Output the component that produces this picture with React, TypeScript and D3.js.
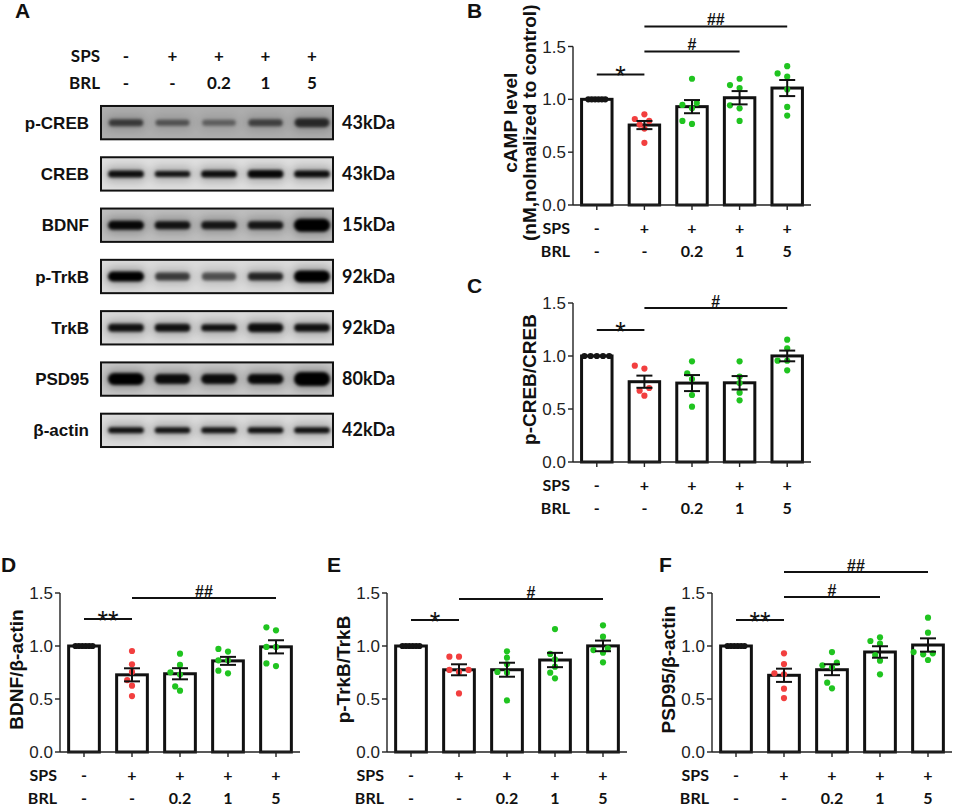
import * as d3 from "d3";

const ARIAL = "'Liberation Sans', Arial, sans-serif";
const LATO = "Lato, 'Liberation Sans', sans-serif";

// groups shared by every panel
const groups = ["Control", "SPS", "SPS+BRL0.2", "SPS+BRL1", "SPS+BRL5"];
const spsLabels = ["-", "+", "+", "+", "+"];
const brlLabels = ["-", "-", "0.2", "1", "5"];
const yTicks = [0, 0.5, 1.0, 1.5];

// western blot (panel A)
const blotRows = ["p-CREB", "CREB", "BDNF", "p-TrkB", "TrkB", "PSD95", "β-actin"];
const blotKDa = ["43kDa", "43kDa", "15kDa", "92kDa", "92kDa", "80kDa", "42kDa"];
const blotDensity = [
  [0.62, 0.48, 0.4, 0.58, 0.72],
  [0.92, 0.88, 0.92, 0.95, 0.92],
  [0.95, 0.88, 0.86, 0.86, 1.0],
  [1.0, 0.68, 0.58, 0.8, 1.0],
  [0.9, 0.9, 0.9, 0.92, 0.9],
  [1.0, 0.92, 0.92, 0.94, 1.0],
  [0.9, 0.88, 0.88, 0.9, 0.9],
];
const blotBandHalf = [
  [3.5, 3, 3, 3.5, 4.5],
  [3.5, 3, 3.5, 4, 3.5],
  [4.5, 4, 4, 4, 6.5],
  [5, 4, 4, 4, 6],
  [4, 4, 3.5, 4.5, 4],
  [6, 5, 5, 5, 7],
  [3, 3, 3, 3, 3],
];
const blotBgGray = [0.68, 0.87, 0.74, 0.86, 0.85, 0.78, 0.86];

// quantification, one array of points per group
const campValues = [
  [1, 1, 1, 1, 1, 1],
  [0.761, 0.814, 0.858, 0.796, 0.723, 0.588],
  [1.195, 0.947, 0.965, 0.915, 0.767, 0.796],
  [1.195, 1.107, 1.135, 0.943, 0.915, 0.796],
  [1.314, 1.214, 1.245, 1.094, 0.928, 0.846],
];
const pcrebValues = [
  [1, 1, 1, 1, 1],
  [0.909, 0.881, 0.698, 0.673, 0.626],
  [0.95, 0.836, 0.783, 0.632, 0.522],
  [0.95, 0.805, 0.745, 0.654, 0.582],
  [1.154, 1.072, 0.956, 0.956, 0.865],
];
const bdnfValues = [
  [1, 1, 1, 1, 1, 1],
  [0.953, 0.827, 0.755, 0.679, 0.626, 0.528],
  [0.928, 0.821, 0.752, 0.73, 0.619, 0.579],
  [0.972, 0.947, 0.865, 0.865, 0.767, 0.742],
  [1.148, 1.176, 0.991, 0.991, 0.836, 0.811],
];
const ptrkbValues = [
  [1, 1, 1, 1, 1, 1],
  [0.899, 0.899, 0.774, 0.774, 0.755, 0.553],
  [0.95, 0.89, 0.827, 0.755, 0.748, 0.487],
  [1.16, 0.925, 0.874, 0.805, 0.748, 0.695],
  [1.195, 1.088, 0.978, 0.937, 0.962, 0.846],
];
const psd95Values = [
  [1, 1, 1, 1, 1, 1],
  [0.931, 0.83, 0.742, 0.733, 0.597, 0.509],
  [0.943, 0.818, 0.843, 0.799, 0.654, 0.601],
  [1.082, 1.047, 1.022, 0.915, 0.862, 0.733],
  [1.267, 1.126, 0.931, 0.943, 0.921, 0.868],
];

// significance bars: group index from/to, height in data units
const campSig = [
  { from: 0, to: 1, at: 1.236, label: "*" },
  { from: 1, to: 3, at: 1.453, label: "#" },
  { from: 1, to: 4, at: 1.69, label: "##" },
];
const pcrebSig = [
  { from: 0, to: 1, at: 1.245, label: "*" },
  { from: 1, to: 4, at: 1.453, label: "#" },
];
const bdnfSig = [
  { from: 0, to: 1, at: 1.255, label: "**" },
  { from: 1, to: 4, at: 1.453, label: "##" },
];
const ptrkbSig = [
  { from: 0, to: 1, at: 1.245, label: "*" },
  { from: 1, to: 4, at: 1.443, label: "#" },
];
const psd95Sig = [
  { from: 0, to: 1, at: 1.245, label: "**" },
  { from: 1, to: 3, at: 1.462, label: "#" },
  { from: 1, to: 4, at: 1.698, label: "##" },
];

const dotColors = ["#151515", "#f23f3f", "#20c420", "#20c420", "#20c420"];

interface Sig { from: number; to: number; at: number; label: string }
interface PanelCfg {
  letter: string; lx: number; ly: number;
  x0: number; w: number; yTop: number; yBottom: number;
  title: string[]; values: number[][]; sig: Sig[]; tieStep: number;
}

const panels: PanelCfg[] = [
  { letter: "B", lx: 467, ly: 18, x0: 573, w: 238, yTop: 46.5, yBottom: 205, title: ["cAMP level", "(nM,nolmalized to control)"], values: campValues, sig: campSig, tieStep: 3.4 },
  { letter: "C", lx: 467, ly: 293, x0: 573, w: 238, yTop: 303, yBottom: 462, title: ["p-CREB/CREB"], values: pcrebValues, sig: pcrebSig, tieStep: 6.2 },
  { letter: "D", lx: 1, ly: 572, x0: 60, w: 240, yTop: 593, yBottom: 752, title: ["BDNF/β-actin"], values: bdnfValues, sig: bdnfSig, tieStep: 3.4 },
  { letter: "E", lx: 327, ly: 572, x0: 387, w: 240, yTop: 593, yBottom: 752, title: ["p-TrkB/TrkB"], values: ptrkbValues, sig: ptrkbSig, tieStep: 3.4 },
  { letter: "F", lx: 659, ly: 572, x0: 712, w: 240, yTop: 593, yBottom: 752, title: ["PSD95/β-actin"], values: psd95Values, sig: psd95Sig, tieStep: 3.4 },
];

const R = 3.1;

// simple beeswarm so overlapping points spread sideways
function swarm(vals: number[], y: (v: number) => number, tieStep: number) {
  const out = new Array(vals.length).fill(0);
  if (vals.every((v) => v === vals[0])) {
    return out.map((_, i) => (i - (vals.length - 1) / 2) * tieStep);
  }
  const step = 4.8;
  const minD = 2 * R;
  const order = d3.range(vals.length).sort((a, b) => vals[a] - vals[b]);
  const placed: { x: number; y: number }[] = [];
  for (const i of order) {
    const py = y(vals[i]);
    for (let k = 0; k < 30; k++) {
      const off = k === 0 ? 0 : (k % 2 ? -1 : 1) * Math.ceil(k / 2) * step;
      if (placed.every((p) => (p.x - off) ** 2 + (p.y - py) ** 2 >= minD * minD)) {
        out[i] = off;
        placed.push({ x: off, y: py });
        break;
      }
    }
  }
  return out;
}

function BarPanel({ cfg }: { cfg: PanelCfg }) {
  const idx = d3.range(groups.length);
  const x = d3
    .scaleBand<number>()
    .domain(idx)
    .range([cfg.x0, cfg.x0 + cfg.w])
    .paddingInner(0.36)
    .paddingOuter(0.18);
  const y = d3.scaleLinear().domain([0, 1.5]).range([cfg.yBottom, cfg.yTop]);
  const cx = (i: number) => (x(i) || 0) + x.bandwidth() / 2;
  const fmt = d3.format(".1f");

  const stats = cfg.values.map((v) => {
    const mean = d3.mean(v) || 0;
    const sem = (d3.deviation(v) || 0) / Math.sqrt(v.length);
    return { mean, sem };
  });

  const titleMid = (cfg.yTop + cfg.yBottom) / 2 - 3;
  const nT = cfg.title.length;

  return (
    <g>
      <text x={cfg.lx} y={cfg.ly} fontSize={21} fontWeight="bold" fill="#111">
        {cfg.letter}
      </text>

      {cfg.title.map((t, i) => (
        <text
          key={t}
          transform={`translate(${cfg.x0 - 37 - (nT - 1 - i) * 19},${titleMid}) rotate(-90)`}
          textAnchor="middle"
          fontSize={19}
          fontWeight="bold"
          fill="#111"
        >
          {t}
        </text>
      ))}

      {/* bars */}
      {stats.map((s, i) => (
        <rect
          key={"bar" + i}
          x={x(i)}
          y={y(s.mean)}
          width={x.bandwidth()}
          height={cfg.yBottom - y(s.mean)}
          fill="#fff"
          stroke="#111"
          strokeWidth={3}
        />
      ))}

      {/* points */}
      {cfg.values.map((v, i) => {
        const offs = swarm(v, y, cfg.tieStep);
        return v.map((val, j) => (
          <circle key={`p${i}-${j}`} cx={cx(i) + offs[j]} cy={y(val)} r={R} fill={dotColors[i]} />
        ));
      })}

      {/* error bars */}
      {stats.map((s, i) =>
        s.sem > 0 ? (
          <g key={"err" + i} stroke="#111" strokeWidth={2}>
            <line x1={cx(i)} x2={cx(i)} y1={y(s.mean + s.sem)} y2={y(s.mean - s.sem)} />
            <line x1={cx(i) - 8} x2={cx(i) + 8} y1={y(s.mean + s.sem)} y2={y(s.mean + s.sem)} />
            <line x1={cx(i) - 8} x2={cx(i) + 8} y1={y(s.mean - s.sem)} y2={y(s.mean - s.sem)} />
          </g>
        ) : null
      )}

      {/* axes */}
      <g stroke="#222" strokeWidth={1.4}>
        <line x1={cfg.x0} x2={cfg.x0} y1={y(1.5)} y2={cfg.yBottom} />
        <line x1={cfg.x0} x2={cfg.x0 + cfg.w} y1={cfg.yBottom} y2={cfg.yBottom} />
        {yTicks.map((t) => (
          <line key={"yt" + t} x1={cfg.x0 - 5} x2={cfg.x0} y1={y(t)} y2={y(t)} />
        ))}
        {idx.map((i) => (
          <line key={"xt" + i} x1={cx(i)} x2={cx(i)} y1={cfg.yBottom} y2={cfg.yBottom + 5} />
        ))}
      </g>
      {yTicks.map((t) => (
        <text key={"yl" + t} x={cfg.x0 - 7} y={y(t) + 6} textAnchor="end" fontSize={17} fill="#222">
          {fmt(t)}
        </text>
      ))}

      {/* treatment rows */}
      <g fontFamily={LATO} fontWeight="bold" fontSize={16} fill="#111">
        <text x={cfg.x0 - 3} y={cfg.yBottom + 29} textAnchor="end">SPS</text>
        <text x={cfg.x0 - 3} y={cfg.yBottom + 52} textAnchor="end">BRL</text>
        {idx.map((i) => (
          <text key={"s" + i} x={cx(i)} y={cfg.yBottom + 29} textAnchor="middle">
            {spsLabels[i]}
          </text>
        ))}
        {idx.map((i) => (
          <text key={"b" + i} x={cx(i)} y={cfg.yBottom + 52} textAnchor="middle">
            {brlLabels[i]}
          </text>
        ))}
      </g>

      {/* significance */}
      {cfg.sig.map((s, k) => {
        const ly = y(s.at);
        const mid = (cx(s.from) + cx(s.to)) / 2;
        const star = s.label.includes("*");
        return (
          <g key={"sig" + k}>
            <line x1={cx(s.from)} x2={cx(s.to)} y1={ly} y2={ly} stroke="#111" strokeWidth={2} />
            <text
              x={mid}
              y={star ? ly + 11 : ly - 1}
              textAnchor="middle"
              fontSize={star ? 27 : 16}
              fontWeight={star ? "normal" : "bold"}
              fill="#111"
            >
              {s.label}
            </text>
          </g>
        );
      })}
    </g>
  );
}

function BlotPanel() {
  const lanes = d3.scalePoint<number>().domain(d3.range(groups.length)).range([126, 312]);
  const rows = d3
    .scaleBand<number>()
    .domain(d3.range(blotRows.length))
    .range([97, 456])
    .paddingInner(0.35)
    .paddingOuter(0.175);
  const boxX = 101;
  const boxW = 232;
  const gray = (g: number) => d3.rgb(g * 255, g * 255, g * 255).toString();

  return (
    <g>
      <text x={15} y={18} fontSize={21} fontWeight="bold" fill="#111">A</text>

      <g fontFamily={LATO} fontWeight="bold" fontSize={17} fill="#111">
        <text x={100} y={62} textAnchor="end">SPS</text>
        <text x={100} y={89} textAnchor="end">BRL</text>
        {groups.map((_, i) => (
          <text key={"hs" + i} x={lanes(i)} y={62} textAnchor="middle">{spsLabels[i]}</text>
        ))}
        {groups.map((_, i) => (
          <text key={"hb" + i} x={lanes(i)} y={89} textAnchor="middle">{brlLabels[i]}</text>
        ))}
      </g>

      {blotRows.map((name, r) => {
        const top = rows(r) || 0;
        const h = rows.bandwidth();
        const mid = top + h / 2;
        return (
          <g key={name}>
            <clipPath id={"clip" + r}>
              <rect x={boxX} y={top} width={boxW} height={h} />
            </clipPath>
            <g clipPath={`url(#clip${r})`}>
              <rect x={boxX} y={top} width={boxW} height={h} fill={gray(blotBgGray[r])} />
              {blotDensity[r].map((d, i) => {
                const bh = blotBandHalf[r][i];
                const bw = 32 + 4 * d;
                const c = lanes(i) || 0;
                return (
                  <g key={i}>
                    <rect
                      x={c - bw / 2 - 3}
                      y={mid - bh - 4}
                      width={bw + 6}
                      height={2 * bh + 8}
                      rx={bh + 4}
                      fill="#000"
                      opacity={d * 0.25}
                      filter="url(#halo)"
                    />
                    <rect
                      x={c - bw / 2}
                      y={mid - bh}
                      width={bw}
                      height={2 * bh}
                      rx={bh}
                      fill="#050505"
                      opacity={d}
                      filter="url(#soft)"
                    />
                  </g>
                );
              })}
            </g>
            <rect x={boxX} y={top} width={boxW} height={h} fill="none" stroke="#111" strokeWidth={2} />
            <text x={89} y={mid + 6} textAnchor="end" fontSize={17} fontWeight="bold" fill="#111">
              {name}
            </text>
            <text x={342} y={mid + 6} fontFamily={LATO} fontSize={18} fontWeight="bold" fill="#111">
              {blotKDa[r]}
            </text>
          </g>
        );
      })}
    </g>
  );
}

export default function App() {
  return (
    <svg
      width={955}
      height={808}
      style={{ position: "absolute", left: 0, top: 0, background: "#fff" }}
      fontFamily={ARIAL}
    >
      <defs>
        <filter id="soft" x="-50%" y="-200%" width="200%" height="500%">
          <feGaussianBlur stdDeviation="1.4" />
        </filter>
        <filter id="halo" x="-50%" y="-200%" width="200%" height="500%">
          <feGaussianBlur stdDeviation="4" />
        </filter>
      </defs>
      <BlotPanel />
      {panels.map((p) => (
        <BarPanel key={p.letter} cfg={p} />
      ))}
    </svg>
  );
}
